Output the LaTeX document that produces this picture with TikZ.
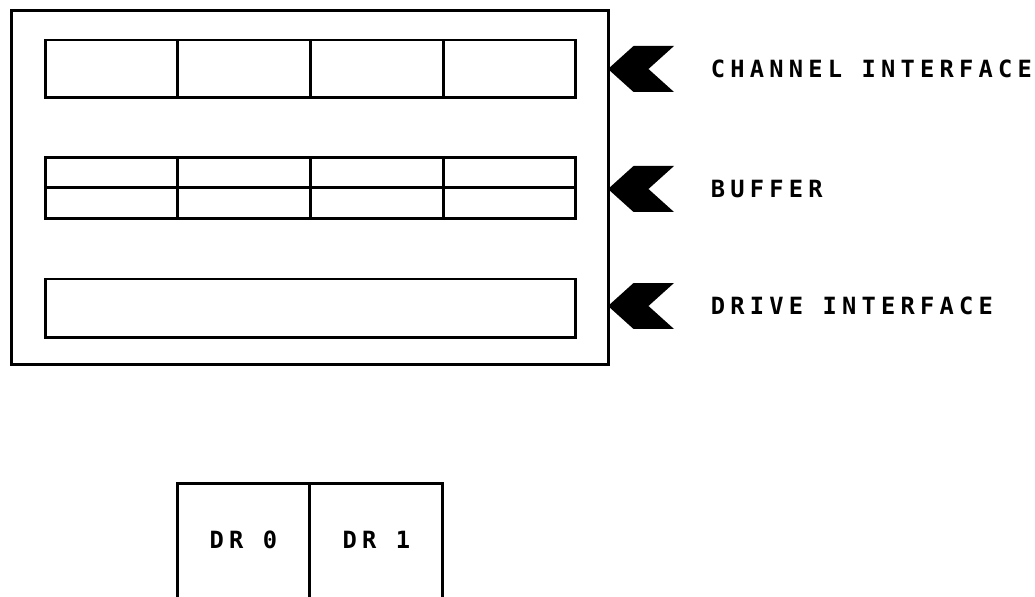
\documentclass[tikz,border=0pt]{standalone}
\usepackage{fontspec}
\usepackage{tikz}
\newfontfamily\tagfont[LetterSpace=22]{DejaVu Sans Mono}
\usetikzlibrary{positioning,shapes.symbols}

\tikzset{
  frame/.style={draw,line width=1.7pt,inner sep=0pt,outer sep=0pt},
  cell/.style={frame,minimum width=2.655cm,minimum height=1.16cm},
  halfcell/.style={frame,minimum width=2.655cm,minimum height=0.61cm},
  flag/.style={signal,signal to=west,signal from=east,signal pointer angle=84,
    fill=black,inner sep=0pt,outer sep=0pt,minimum width=1.32cm,minimum height=0.92cm},
  tag/.style={font={\tagfont\bfseries\fontsize{13.5pt}{16pt}\selectfont},inner sep=0pt}
}

\begin{document}
\begin{tikzpicture}[x=0.02cm,y=-0.02cm]
\clip(0,0)rectangle(1035,597);
% controller frame
\node[frame,minimum width=11.96cm,minimum height=7.1cm](ctl)at(310,187.5){};
% channel interface, four registers
\foreach \i in {1,...,4}
  \node[cell](ci\i)at({45+132.75*(\i-0.5)},69){};
% buffer, two rows of four
\foreach \i in {1,...,4}{
  \node[halfcell](bu\i)at({45+132.75*(\i-0.5)},172.5){};
  \node[halfcell,below=0pt of bu\i](bl\i){};
}
% drive interface
\node[frame,minimum width=10.62cm,minimum height=1.18cm](di)at(310.5,308.5){};
% flags and their names
\node[flag](fci)at(641,69){};
\node[flag](fbu)at(641,189){};
\node[flag](fdi)at(641,306){};
\node[tag,right=1.24cm of fci](tci){CHANNEL INTERFACE};
\node[tag,right=1.24cm of fbu](tbu){BUFFER};
\node[tag,right=1.24cm of fdi](tdi){DRIVE INTERFACE};
% drives
\node[frame,minimum width=2.66cm,minimum height=3cm](dr0)at(243.5,558){};
\node[frame,minimum width=2.66cm,minimum height=3cm,right=0pt of dr0](dr1){};
\node[tag]at([yshift=-1.14cm]dr0.north){DR 0};
\node[tag]at([yshift=-1.14cm]dr1.north){DR 1};
\end{tikzpicture}
\end{document}
